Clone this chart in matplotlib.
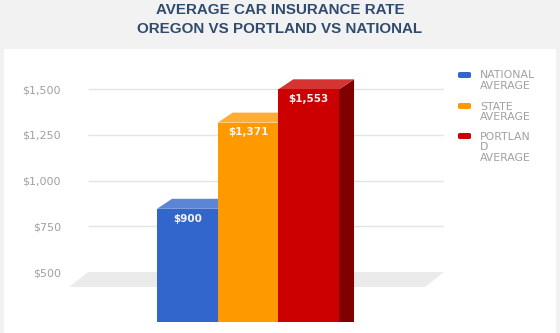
"""Average car insurance rate: Oregon vs Portland vs national, 3D-look bars."""
import matplotlib

matplotlib.use("Agg")
import matplotlib.pyplot as plt  # noqa: E402
from matplotlib.patches import FancyBboxPatch, Polygon, Rectangle  # noqa: E402

TITLE = ["AVERAGE CAR INSURANCE RATE", "OREGON VS PORTLAND VS NATIONAL"]
SERIES = ["NATIONAL\nAVERAGE", "STATE\nAVERAGE", "PORTLAN\nD\nAVERAGE"]
VALUES = [900, 1371, 1553]
BAR_LABELS = ["$900", "$1,371", "$1,553"]
TICKS = [500, 750, 1000, 1250, 1500]
TICK_LABELS = ["$500", "$750", "$1,000", "$1,250", "$1,500"]

FRONT = ["#3366cc", "#ff9900", "#cc0000"]
TOP = ["#5c85d6", "#ffad33", "#d63333"]
SIDE = ["#2a55aa", "#cc7a00", "#800000"]
TITLE_C, TEXT_C, GRID_C, FLOOR_C = "#2f4b6e", "#a0a0a0", "#e4e4e4", "#ebebeb"

W, H = 560, 333
fig = plt.figure(figsize=(W / 100, H / 100), dpi=100, facecolor="#f2f2f2")
fig.add_artist(Rectangle((4 / W, 0), 552 / W, (H - 49) / H, transform=fig.transFigure,
                         facecolor="white", edgecolor="none", zorder=0))

for k, line in enumerate(TITLE):
    fig.text(0.5, 1 - (10.5 + 18.5 * k) / H, line, ha="center", va="center", fontsize=10.9,
             fontweight="bold", color=TITLE_C, family="Liberation Sans")

# axes = back plane of the 3D box
ax = fig.add_axes([88 / W, (H - 322) / H, 356 / W, 262 / H])
ax.patch.set_alpha(0)
ax.set_ylim(226.8, 1658.5)
ax.set_xlim(-1.885, 3.983)
for s in ax.spines.values():
    s.set_visible(False)
ax.set_xticks([])
ax.set_yticks(TICKS, TICK_LABELS)
ax.tick_params(axis="y", length=0, pad=19.5, labelsize=8, labelcolor=TEXT_C)
ax.hlines(TICKS[1:], -1.885, 3.983, color=GRID_C, linewidth=1, zorder=1)

# floor at the minimum value
x0, x1 = ax.get_xlim()
fdx, fdy = 0.313, 82
ax.add_patch(Polygon([(x0, TICKS[0]), (x1, TICKS[0]), (x1 - fdx, TICKS[0] - fdy),
                      (x0 - fdx, TICKS[0] - fdy)], closed=True, facecolor=FLOOR_C,
                     edgecolor="none", zorder=1, clip_on=False))

dx, dy = 0.247, 54.6
for i, v in enumerate(VALUES):
    l, r = i - 0.5, i + 0.5
    ax.add_patch(Polygon([(r - dx, 0), (r, dy), (r, v), (r - dx, v - dy)],
                         facecolor=SIDE[i], edgecolor="none", zorder=3))
    ax.add_patch(Polygon([(l - dx, v - dy), (r - dx, v - dy), (r, v), (l, v)],
                         facecolor=TOP[i], edgecolor="none", zorder=3))
    ax.add_patch(Rectangle((l - dx, 0), 1, v - dy, facecolor=FRONT[i],
                           edgecolor="none", zorder=3))
    ax.annotate(BAR_LABELS[i], (i - dx, v - dy), xytext=(0, -3.5), textcoords="offset points",
                ha="center", va="top", fontsize=7.5, fontweight="bold", color="#f4f4f4",
                zorder=4)

# legend
for i, (name, ys) in enumerate(zip(SERIES, [72, 103, 133])):
    fig.add_artist(FancyBboxPatch((458 / W, 1 - (ys + 6) / H), 13 / W, 6 / H,
                                  boxstyle="round,pad=0,rounding_size=0.004",
                                  transform=fig.transFigure, facecolor=FRONT[i],
                                  edgecolor="none"))
    fig.text(480 / W, 1 - (ys - 1.5) / H, name, ha="left", va="top", fontsize=7.8,
             color=TEXT_C, linespacing=1.12)

fig.savefig("out.png", dpi=100, facecolor=fig.get_facecolor())
